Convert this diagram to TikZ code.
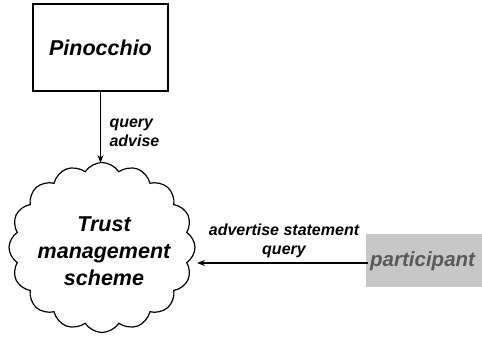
\documentclass[tikz,border=0pt]{standalone}
\usepackage{fontspec}
\setmainfont{Liberation Sans}
\usetikzlibrary{shapes.symbols,arrows.meta}
\begin{document}
\begin{tikzpicture}[x=1pt,y=-1pt,
  every node/.style={font=\bfseries\itshape},
  bigtxt/.style={font=\fontsize{21.5}{27}\selectfont\bfseries\itshape},
  smalltxt/.style={font=\fontsize{16}{19.5}\selectfont\bfseries\itshape},
  conn/.style={draw=black,line width=1.1pt,-{Stealth[length=8pt,width=6pt]}}]
\useasboundingbox (0,0) rectangle (482,342);
\node[draw,line width=1.3pt,minimum width=135pt,minimum height=87pt,bigtxt] (pin) at (100.5,47.5) {Pinocchio};
\node[cloud,draw,line width=1.2pt,cloud puffs=16,cloud puff arc=115,aspect=1.1,
  minimum width=186pt,minimum height=170pt,align=center,bigtxt] (cloud) at (102,247.5) {};
\node[bigtxt,align=center] (ctext) at (104,251) {Trust\\management\\scheme};
\fill[black!22] (366,234) rectangle (482,287);
\node[text=black!65,font=\fontsize{20.5}{24}\selectfont\bfseries\itshape,anchor=west,inner sep=2pt] (part) at (368,261) {participant};
\coordinate (ctop) at (pin.south |- 0,163);
\coordinate (cright) at (197,263);
\draw[conn] (part.west |- cright) -- (cright);
\draw[conn] (pin.south) -- (ctop);
\node[smalltxt,anchor=west,align=left] (lab1) at (106,133) {query\\advise};
\node[smalltxt,align=center] (lab2) at (284,241) {advertise statement\\query};
\end{tikzpicture}
\end{document}
